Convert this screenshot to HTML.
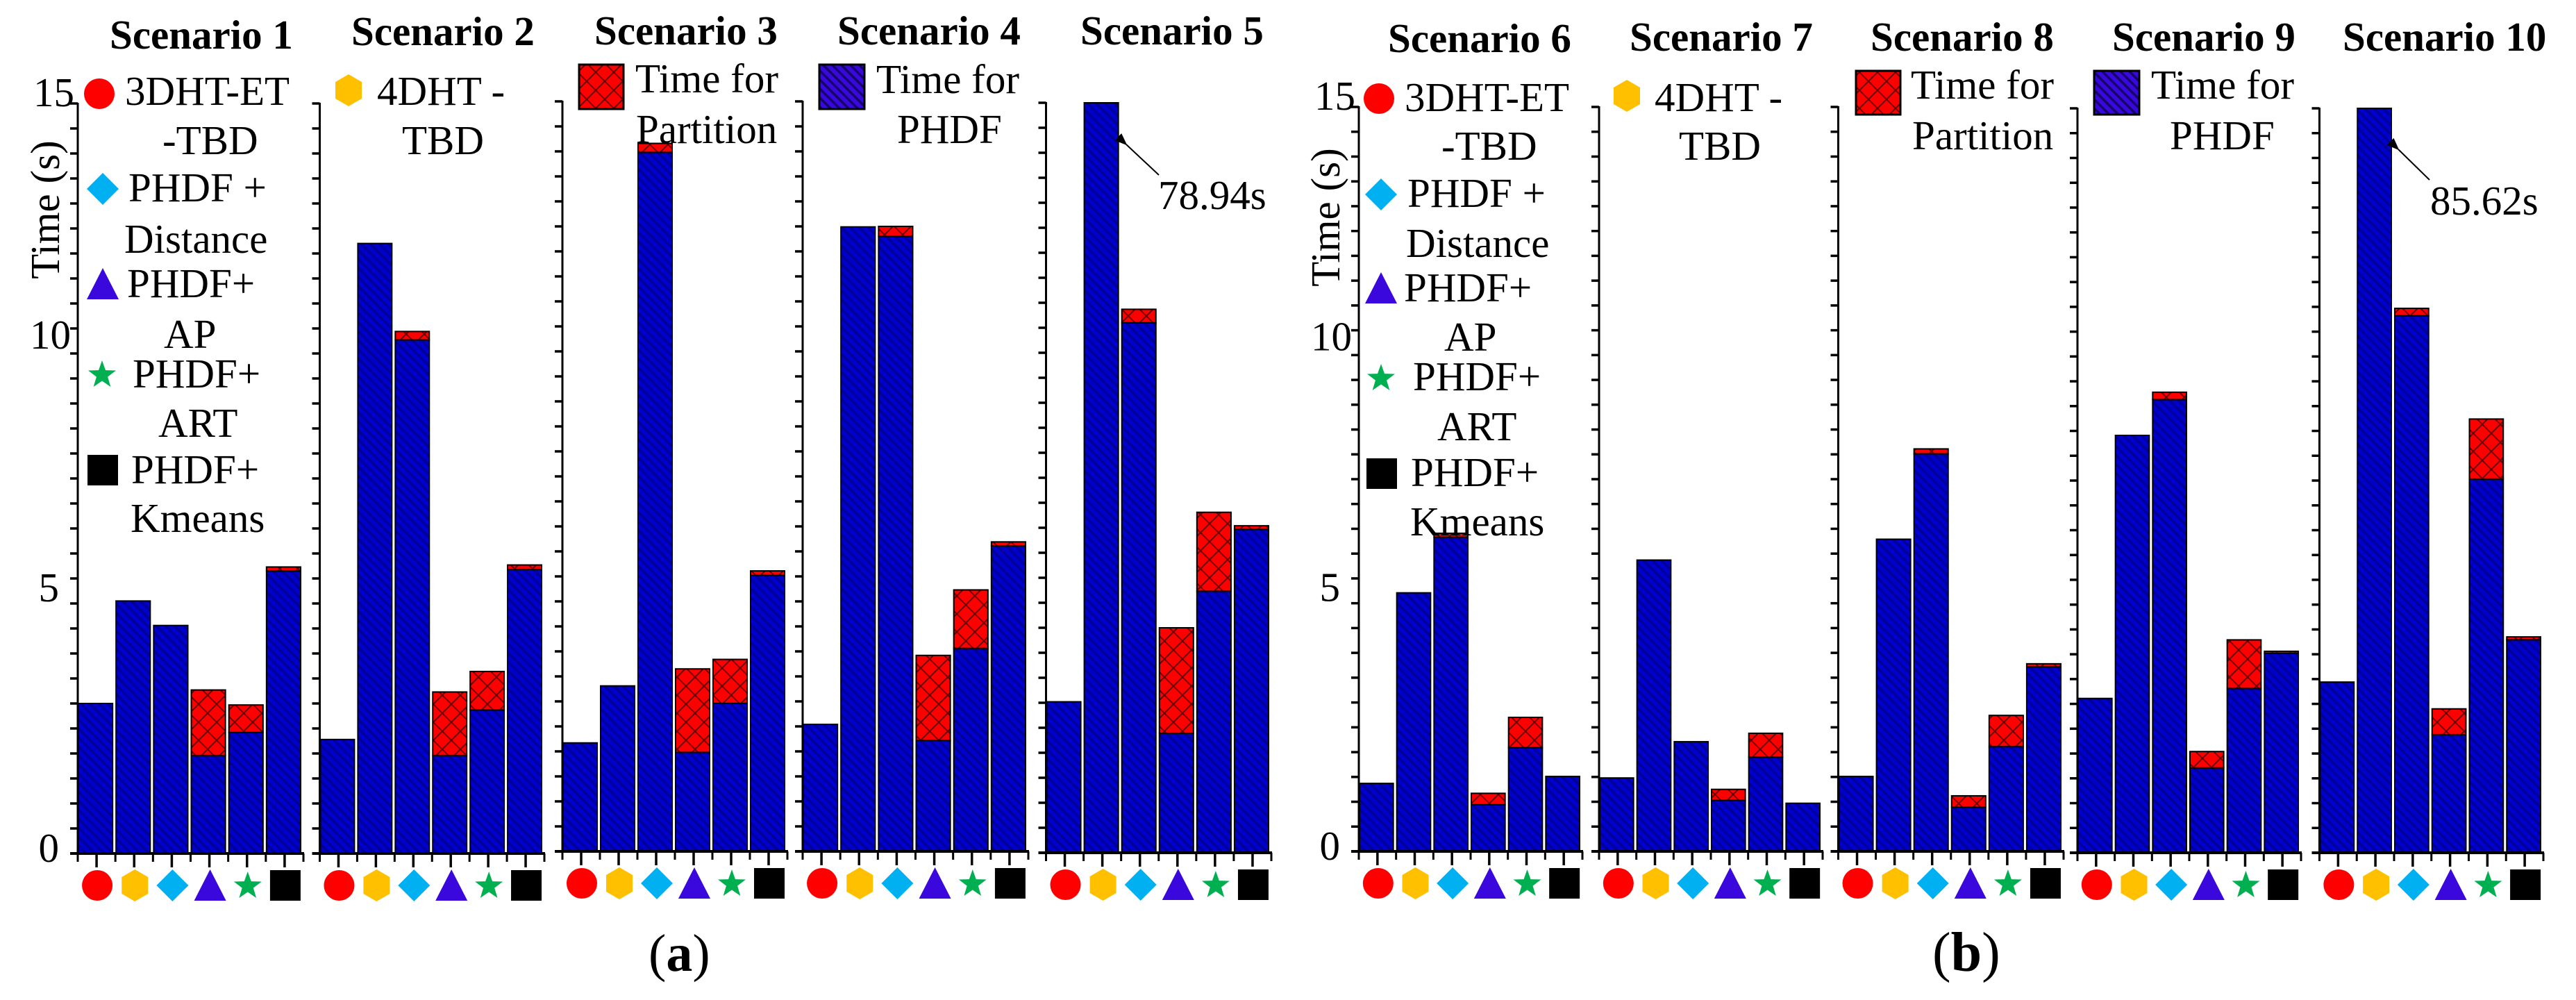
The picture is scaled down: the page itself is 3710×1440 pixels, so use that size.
<!DOCTYPE html>
<html lang="en">
<head>
<meta charset="utf-8">
<title>Time per scenario</title>
<style>
html,body{margin:0;padding:0;background:#fff;}
svg{display:block;}
text{font-family:"Liberation Serif",serif;font-size:59px;fill:#000;}
.title{font-weight:bold;}
</style>
</head>
<body>
<svg id="chart" xmlns="http://www.w3.org/2000/svg" width="3710" height="1440" viewBox="0 0 3710 1440">
<defs>
  <pattern id="hatch-blue" patternUnits="userSpaceOnUse" width="13" height="13">
    <rect width="13" height="13" fill="#0000cc"/>
    <path d="M-3 -3L16 16M-3 10L3 16M10 -3L16 3" stroke="#000098" stroke-width="3.5"/>
  </pattern>
  <pattern id="hatch-purple" patternUnits="userSpaceOnUse" width="13" height="13">
    <rect width="13" height="13" fill="#3a08dc"/>
    <path d="M-3 -3L16 16M-3 10L3 16M10 -3L16 3" stroke="#14056c" stroke-width="3.5"/>
  </pattern>
  <pattern id="hatch-red" patternUnits="userSpaceOnUse" width="26" height="26">
    <rect width="26" height="26" fill="#ff0000"/>
    <path d="M0 0L26 26M26 0L0 26" stroke="#6a0000" stroke-width="2"/>
  </pattern>
  <marker id="arrow-head" markerWidth="9" markerHeight="7" refX="1" refY="3.5" orient="auto" markerUnits="strokeWidth">
    <polygon points="9,0 0,3.5 9,7" fill="#000"/>
  </marker>
</defs>

<g id="marks"></g>

<g>
  <text class="title" x="158" y="70">Scenario 1</text>
  <text class="title" x="506" y="65">Scenario 2</text>
  <text class="title" x="856" y="64">Scenario 3</text>
  <text class="title" x="1206" y="64">Scenario 4</text>
  <text class="title" x="1556" y="64">Scenario 5</text>
  <text class="title" x="1999" y="75">Scenario 6</text>
  <text class="title" x="2347" y="73">Scenario 7</text>
  <text class="title" x="2694" y="73">Scenario 8</text>
  <text class="title" x="3042" y="73">Scenario 9</text>
  <text class="title" x="3374" y="73">Scenario 10</text>
</g>

<g>
  <text transform="translate(85 302) rotate(-90)" text-anchor="middle">Time (s)</text>
  <text transform="translate(1929 313) rotate(-90)" text-anchor="middle">Time (s)</text>
</g>

<g>
  <text x="180" y="151">3DHT-ET</text>
  <text x="234" y="222">-TBD</text>
  <text x="185" y="290">PHDF +</text>
  <text x="179" y="364">Distance</text>
  <text x="183" y="428">PHDF+</text>
  <text x="236" y="501">AP</text>
  <text x="191" y="558">PHDF+</text>
  <text x="228" y="629">ART</text>
  <text x="189" y="696">PHDF+</text>
  <text x="188" y="766">Kmeans</text>
  <text x="543" y="151">4DHT -</text>
  <text x="579" y="222">TBD</text>
  <rect x="834" y="93" width="64" height="64" fill="url(#hatch-red)" stroke="#000" stroke-width="3"/>
  <text x="915" y="133">Time for</text>
  <text x="916" y="206">Partition</text>
  <rect x="1180" y="93" width="65" height="64" fill="url(#hatch-purple)" stroke="#000" stroke-width="3"/>
  <text x="1262" y="134">Time for</text>
  <text x="1292" y="206">PHDF</text>
</g>

<g>
  <text x="2023" y="160">3DHT-ET</text>
  <text x="2076" y="230">-TBD</text>
  <text x="2027" y="298">PHDF +</text>
  <text x="2025" y="370">Distance</text>
  <text x="2022" y="434">PHDF+</text>
  <text x="2080" y="505">AP</text>
  <text x="2035" y="562">PHDF+</text>
  <text x="2070" y="634">ART</text>
  <text x="2032" y="700">PHDF+</text>
  <text x="2031" y="771">Kmeans</text>
  <text x="2383" y="160">4DHT -</text>
  <text x="2418" y="230">TBD</text>
  <rect x="2673" y="102" width="64" height="63" fill="url(#hatch-red)" stroke="#000" stroke-width="3"/>
  <text x="2752" y="142">Time for</text>
  <text x="2754" y="215">Partition</text>
  <rect x="3016" y="102" width="65" height="63" fill="url(#hatch-purple)" stroke="#000" stroke-width="3"/>
  <text x="3098" y="142">Time for</text>
  <text x="3125" y="215">PHDF</text>
</g>

<g>
  <line x1="1669" y1="252" x2="1622" y2="208" stroke="#000" stroke-width="2" marker-end="url(#arrow-head)"/>
  <text x="1668" y="301">78.94s</text>
  <line x1="3499" y1="259" x2="3454" y2="215" stroke="#000" stroke-width="2" marker-end="url(#arrow-head)"/>
  <text x="3500" y="309">85.62s</text>
</g>

<g>
  <text x="934" y="1398" style="font-size:76px">(<tspan font-weight="bold">a</tspan>)</text>
  <text x="2783" y="1398" style="font-size:80px">(<tspan font-weight="bold">b</tspan>)</text>
</g>
</svg>

<script>
// ---- data ----
const methods = ['3dht-et-tbd', '4dht-tbd', 'phdf-distance', 'phdf-ap', 'phdf-art', 'phdf-kmeans'];
const tickLabels = [0, 5, 10, 15];
const phdfS1 = [3.00, 5.05, 4.56, 1.96, 2.42, 5.65];
const partS1 = [0, 0, 0, 1.31, 0.55, 0.08];
const phdfS2 = [2.28, 12.20, 10.27, 1.96, 2.87, 5.68];
const partS2 = [0, 0, 0.17, 1.27, 0.77, 0.09];
const phdfS3 = [2.17, 3.31, 13.98, 1.98, 2.96, 5.52];
const partS3 = [0, 0, 0.18, 1.67, 0.88, 0.09];
const phdfS4 = [2.54, 12.49, 12.30, 2.22, 4.06, 6.11];
const partS4 = [0, 0, 0.20, 1.70, 1.17, 0.08];
const phdfS5 = [3.02, 78.94, 10.60, 2.39, 5.23, 6.47];
const partS5 = [0, 0, 0.27, 2.11, 1.58, 0.07];
const phdfS6 = [1.37, 5.21, 6.33, 0.94, 2.09, 1.51];
const partS6 = [0, 0, 0.08, 0.23, 0.61, 0];
const phdfS7 = [1.48, 5.87, 2.21, 1.03, 1.90, 0.97];
const partS7 = [0, 0, 0, 0.22, 0.48, 0];
const phdfS8 = [1.51, 6.29, 8.01, 0.89, 2.11, 3.72];
const partS8 = [0, 0, 0.10, 0.23, 0.63, 0.06];
const phdfS9 = [3.11, 8.41, 9.13, 1.71, 3.31, 4.02];
const partS9 = [0, 0, 0.15, 0.33, 0.98, 0.04];
const phdfS10 = [3.44, 85.62, 10.82, 2.38, 7.53, 4.29];
const partS10 = [0, 0, 0.15, 0.52, 1.21, 0.06];
const phdfSeries = [phdfS1, phdfS2, phdfS3, phdfS4, phdfS5, phdfS6, phdfS7, phdfS8, phdfS9, phdfS10];
const partitionSeries = [partS1, partS2, partS3, partS4, partS5, partS6, partS7, partS8, partS9, partS10];

// ---- layout (panel frames, not data) ----
const panelLeft = [112, 460.5, 810, 1156, 1506.5, 1957, 2303, 2647.5, 2992, 3340.5];
const panelRight = [437, 784, 1134, 1481, 1831, 2279, 2625, 2972, 3314, 3663];
const panelTop = [149, 149, 146, 146, 148, 154, 154, 154, 156, 156];
const panelBase = [1229, 1229, 1226, 1226, 1228, 1226, 1226, 1226, 1228, 1228];
const Y_MAX = 15;
const MINOR_PER_UNIT = 2;
const SVGNS = 'http://www.w3.org/2000/svg';
const root = document.getElementById('marks');

function make(tag, attrs, parent) {
  const e = document.createElementNS(SVGNS, tag);
  for (const k in attrs) e.setAttribute(k, attrs[k]);
  parent.appendChild(e);
  return e;
}

function yScale(p) {
  return function (v) {
    const clamped = Math.min(v, Y_MAX);
    return panelBase[p] - (panelBase[p] - panelTop[p]) * clamped / Y_MAX;
  };
}

function xSlot(p) {
  const w = (panelRight[p] - panelLeft[p]) / methods.length;
  return function (i) { return panelLeft[p] + i * w; };
}

function symbolShape(kind, cx, cy, parent) {
  let s;
  if (kind === 0) {
    s = make('ellipse', { cx: cx, cy: cy, rx: 22, ry: 22, fill: '#ff0000' }, parent);
  } else if (kind === 1) {
    const pts = [[0, -23], [19, -12], [19, 12], [0, 23], [-19, 12], [-19, -12]];
    s = make('polygon', { points: pts.map(q => (cx + q[0]) + ',' + (cy + q[1])).join(' '), fill: '#ffc000' }, parent);
  } else if (kind === 2) {
    const pts = [[0, -23], [23, 0], [0, 23], [-23, 0]];
    s = make('polygon', { points: pts.map(q => (cx + q[0]) + ',' + (cy + q[1])).join(' '), fill: '#00b0f0' }, parent);
  } else if (kind === 3) {
    const pts = [[0, -23], [23, 22], [-23, 22]];
    s = make('polygon', { points: pts.map(q => (cx + q[0]) + ',' + (cy + q[1])).join(' '), fill: '#3a08dc' }, parent);
  } else if (kind === 4) {
    let pts = [];
    for (let k = 0; k < 10; k++) {
      const r = k % 2 ? 8.5 : 21;
      const a = -Math.PI / 2 + k * Math.PI / 5;
      pts.push((cx + r * Math.cos(a)) + ',' + (cy + 1 + r * Math.sin(a)));
    }
    s = make('polygon', { points: pts.join(' '), fill: '#00b050' }, parent);
  } else {
    s = make('rect', { x: cx - 22, y: cy - 22, width: 44, height: 44, fill: '#000' }, parent);
  }
  return s;
}

function tickLabelNudge(v) {
  if (v === 0) return 12;
  if (v === 5) return -3;
  if (v === 15) return 4;
  return -7;
}
function tickLabelInset(v) {
  if (v === 15) return 5;
  if (v === 10) return 10;
  return 27;
}

function drawPanel(p) {
  const y = yScale(p);
  const x = xSlot(p);
  const g = make('g', {}, root);
  
  
  const slot = x(1) - x(0);

  // bars
  const phdf = phdfSeries[p];
  const part = partitionSeries[p];
  phdf.forEach(function (val, i) {
    const left = x(i) + 1;
    const width = slot - 5;
    const blueTop = y(val);
    const blue = make('rect', { x: left, y: blueTop, width: width, height: panelBase[p] - blueTop, fill: 'url(#hatch-blue)', stroke: '#000', 'stroke-width': 2 }, g);
    
    
    if (part[i] > 0) {
      const redTop = y(val + part[i]);
      const red = make('rect', { x: left, y: redTop, width: width, height: blueTop - redTop, fill: 'url(#hatch-red)', stroke: '#000', 'stroke-width': 2 }, g);
      
      
    }
  });

  // y axis
  const yAxis = make('line', { x1: panelLeft[p], x2: panelLeft[p], y1: panelTop[p] - 1, y2: panelBase[p] + 2, stroke: '#000', 'stroke-width': 3 }, g);
  
  
  for (let t = 0; t <= Y_MAX * MINOR_PER_UNIT; t++) {
    const ty = y(t / MINOR_PER_UNIT);
    const tick = make('line', { x1: panelLeft[p] - 11, x2: panelLeft[p], y1: ty, y2: ty, stroke: '#000', 'stroke-width': 3.5 }, g);
    
    
  }

  // x axis
  const xAxis = make('line', { x1: panelLeft[p] - 11, x2: panelRight[p] + 1, y1: panelBase[p], y2: panelBase[p], stroke: '#000', 'stroke-width': 4 }, g);
  
  
  for (let i = 0; i <= methods.length; i++) {
    const mt = make('line', { x1: x(i), x2: x(i), y1: panelBase[p], y2: panelBase[p] + 12, stroke: '#000', 'stroke-width': 3 }, g);
    
    
  }
  methods.forEach(function (m, i) {
    const c = x(i) + slot / 2;
    const tick = make('line', { x1: c, x2: c, y1: panelBase[p], y2: panelBase[p] + 20, stroke: '#000', 'stroke-width': 3.5 }, g);
    
    
    const sym = symbolShape(i, c + 1, panelBase[p] + 46, g);
    
    
  });
}

function drawTickLabels(p) {
  const y = yScale(p);
  tickLabels.forEach(function (v) {
    const label = make('text', { x: panelLeft[p] - tickLabelInset(v), y: y(v) + tickLabelNudge(v), 'text-anchor': 'end' }, root);
    label.textContent = String(v);
    
    
  });
}

function legendSymbol(kind, cx, cy, name) {
  const s = symbolShape(kind, cx, cy, root);
  
  
}

phdfSeries.forEach(function (_, p) { drawPanel(p); });
drawTickLabels(0);
drawTickLabels(5);

legendSymbol(0, 143, 135, 'legend-symbol-3dht');
legendSymbol(1, 502, 130, 'legend-symbol-4dht');
legendSymbol(2, 148, 272, 'legend-symbol-distance');
legendSymbol(3, 148, 409, 'legend-symbol-ap');
legendSymbol(4, 147, 539, 'legend-symbol-art');
legendSymbol(5, 148, 677, 'legend-symbol-kmeans');
legendSymbol(0, 1986, 142, 'legend-symbol-3dht-b');
legendSymbol(1, 2343, 138, 'legend-symbol-4dht-b');
legendSymbol(2, 1989, 280, 'legend-symbol-distance-b');
legendSymbol(3, 1989, 415, 'legend-symbol-ap-b');
legendSymbol(4, 1989, 544, 'legend-symbol-art-b');
legendSymbol(5, 1990, 682, 'legend-symbol-kmeans-b');
</script>
</body>
</html>
